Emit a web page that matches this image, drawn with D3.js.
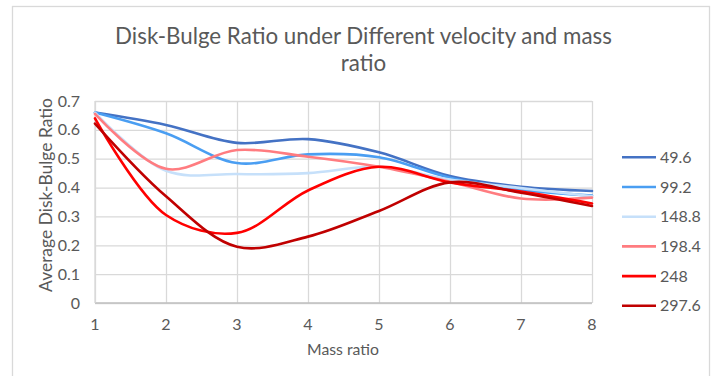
<!DOCTYPE html>
<html>
<head>
<meta charset="utf-8">
<script src="https://cdn.jsdelivr.net/npm/d3@7"></script>
<style>
  html, body { margin: 0; padding: 0; background: #fff; }
  svg { display: block; }
  text { font-family: Lato, "Open Sans", "Liberation Sans", sans-serif; fill: #595959; }
</style>
</head>
<body>
<svg id="chart" width="721" height="376"></svg>
<script>
// Mass ratio categories on the x axis
const massRatio = [1, 2, 3, 4, 5, 6, 7, 8];

// Average disk-bulge ratio for each velocity
const v49_6  = [0.660, 0.617, 0.555, 0.568, 0.522, 0.440, 0.403, 0.388];
const v99_2  = [0.660, 0.588, 0.485, 0.515, 0.505, 0.434, 0.393, 0.372];
const v148_8 = [0.660, 0.458, 0.447, 0.450, 0.472, 0.428, 0.398, 0.370];
const v198_4 = [0.655, 0.465, 0.530, 0.507, 0.472, 0.420, 0.362, 0.365];
const v248   = [0.640, 0.305, 0.243, 0.390, 0.472, 0.418, 0.386, 0.345];
const v297_6 = [0.622, 0.370, 0.195, 0.230, 0.319, 0.418, 0.382, 0.336];

const seriesNames  = ["49.6", "99.2", "148.8", "198.4", "248", "297.6"];
const seriesValues = [v49_6, v99_2, v148_8, v198_4, v248, v297_6];
const seriesColors = ["#4472C4", "#4A9EF2", "#C6E0FA", "#FF7C80", "#FF0000", "#C00000"];

const yTicks = [0, 0.1, 0.2, 0.3, 0.4, 0.5, 0.6, 0.7];

const svg = d3.select("#chart");

// Outer chart frame
svg.append("rect")
  .attr("x", 12.5).attr("y", 6.5)
  .attr("width", 697).attr("height", 400)
  .attr("fill", "none").attr("stroke", "#d9d9d9").attr("stroke-width", 1.3);

const x = d3.scaleLinear().domain([1, 8]).range([95, 592]);
const y = d3.scaleLinear().domain([0, 0.7]).range([303, 101]);

// Horizontal gridlines
svg.append("g")
  .attr("transform", `translate(${x(1)},0)`)
  .call(d3.axisLeft(y).tickValues(yTicks).tickSize(-(x(8) - x(1))).tickFormat(""))
  .call(g => g.select(".domain").remove())
  .call(g => g.selectAll(".tick line").attr("stroke", "#d9d9d9").attr("stroke-width", 1.3));

// Vertical gridlines
svg.append("g")
  .attr("transform", `translate(0,${y(0)})`)
  .call(d3.axisBottom(x).tickValues(massRatio).tickSize(-(y(0) - y(0.7))).tickFormat(""))
  .call(g => g.select(".domain").remove())
  .call(g => g.selectAll(".tick line").attr("stroke", "#d9d9d9").attr("stroke-width", 1.3));

// Axis lines
svg.append("line")
  .attr("x1", x(1)).attr("x2", x(8)).attr("y1", y(0)).attr("y2", y(0))
  .attr("stroke", "#bfbfbf").attr("stroke-width", 1.3);
svg.append("line")
  .attr("x1", x(1)).attr("x2", x(1)).attr("y1", y(0)).attr("y2", y(0.7))
  .attr("stroke", "#d9d9d9").attr("stroke-width", 1.3);

// Y tick labels
svg.append("g").selectAll("text")
  .data(yTicks).join("text")
  .attr("x", 80).attr("y", d => y(d)).attr("dy", "0.35em")
  .attr("text-anchor", "end").attr("font-size", 16)
  .text(d => d === 0 ? "0" : d3.format(".1f")(d));

// X tick labels
svg.append("g").selectAll("text")
  .data(massRatio).join("text")
  .attr("x", d => x(d)).attr("y", 330)
  .attr("text-anchor", "middle").attr("font-size", 16)
  .text(d => d);

// Series lines
const line = d3.line()
  .x((d, i) => x(massRatio[i]))
  .y(d => y(d))
  .curve(d3.curveCatmullRom.alpha(0.5));

svg.append("g").selectAll("path")
  .data(seriesValues).join("path")
  .attr("d", d => line(d))
  .attr("fill", "none")
  .attr("stroke", (d, i) => seriesColors[i])
  .attr("stroke-width", 2.6)
  .attr("stroke-linecap", "round")
  .attr("stroke-linejoin", "round");

// Legend
const legend = svg.append("g").selectAll("g")
  .data(seriesNames).join("g")
  .attr("transform", (d, i) => `translate(622,${157.3 + i * 29.7})`);
legend.append("line")
  .attr("x1", 0).attr("x2", 34).attr("y1", 0).attr("y2", 0)
  .attr("stroke", (d, i) => seriesColors[i]).attr("stroke-width", 2.6);
legend.append("text")
  .attr("x", 38).attr("y", 0).attr("dy", "0.35em")
  .attr("font-size", 16)
  .text(d => d);

// Title, two lines
function fitText(sel, width) {
  const w = sel.node().getComputedTextLength();
  const fs = parseFloat(sel.attr("font-size"));
  sel.attr("font-size", fs * width / w);
}
const t1 = svg.append("text")
  .attr("x", 363.5).attr("y", 43.5).attr("text-anchor", "middle")
  .attr("font-size", 23)
  .text("Disk-Bulge Ratio under Different velocity and mass");
fitText(t1, 497);
svg.append("text")
  .attr("x", 363.5).attr("y", 71).attr("text-anchor", "middle")
  .attr("font-size", t1.attr("font-size"))
  .text("ratio");

// Axis titles
const xt = svg.append("text")
  .attr("x", 343).attr("y", 355).attr("text-anchor", "middle")
  .attr("font-size", 16).text("Mass ratio");
fitText(xt, 72);

const yt = svg.append("text")
  .attr("transform", `translate(52,195) rotate(-90)`)
  .attr("text-anchor", "middle")
  .attr("font-size", 16).text("Average Disk-Bulge Ratio");
fitText(yt, 194);
</script>
</body>
</html>
